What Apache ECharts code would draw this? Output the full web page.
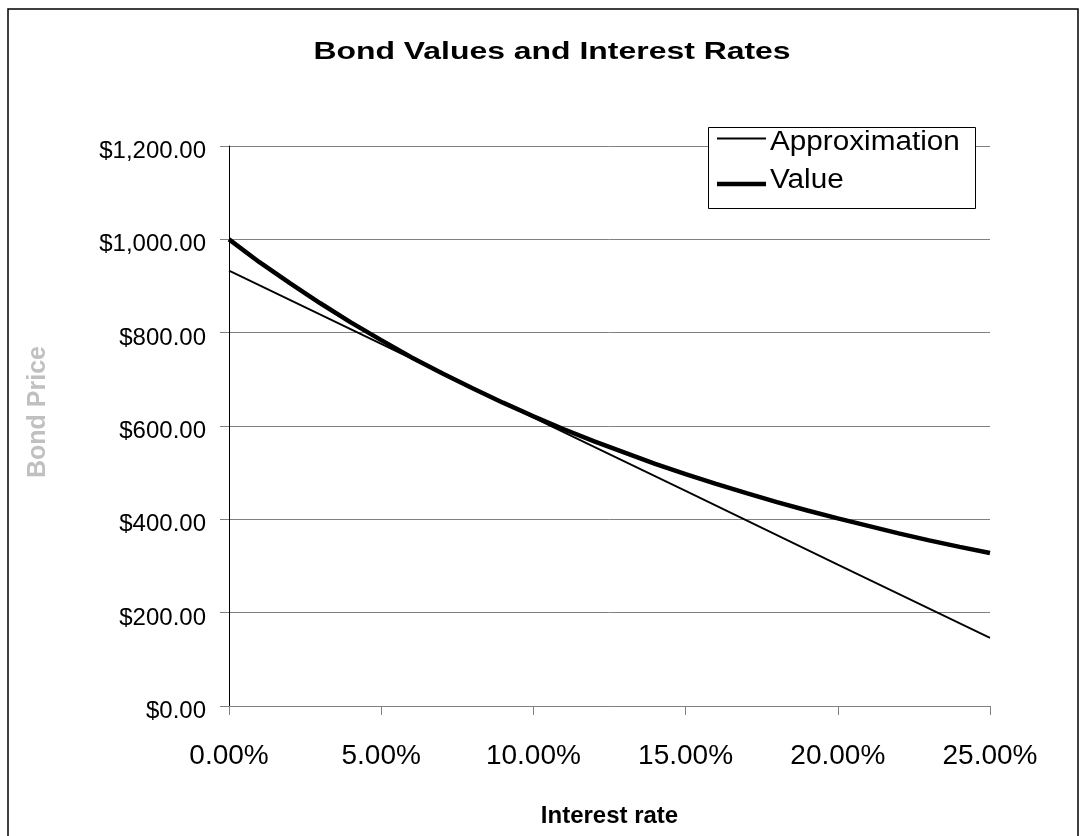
<!DOCTYPE html>
<html>
<head>
<meta charset="utf-8">
<title>Bond Values and Interest Rates</title>
<script src="https://cdn.jsdelivr.net/npm/echarts@6/dist/echarts.min.js"></script>
<style>
  html, body { margin: 0; padding: 0; background: #ffffff; }
  #chart { width: 1082px; height: 836px; }
</style>
</head>
<body>
<div id="chart"></div>
<script>
// Interest rates (as fractions) at which the bond is priced
const rates = [0.00, 0.01, 0.02, 0.03, 0.04, 0.05, 0.06, 0.07, 0.08, 0.09, 0.10, 0.11, 0.12,
               0.13, 0.14, 0.15, 0.16, 0.17, 0.18, 0.19, 0.20, 0.21, 0.22, 0.23, 0.24, 0.25];

// Bond price at each rate
const bondValue = [1000, 951, 906, 863, 822, 784, 747, 713, 681, 650, 621, 593, 567,
                   543, 519, 497, 476, 456, 437, 419, 402, 386, 370, 355, 341, 328];

// Linear (duration) approximation of the price
const approxRates = [0.00, 0.05, 0.10, 0.15, 0.20, 0.25];
const approxValue = [933, 776, 618, 461, 303, 146];

// Axis ticks
const yTicks = [0, 200, 400, 600, 800, 1000, 1200];
const xTicks = [0.00, 0.05, 0.10, 0.15, 0.20, 0.25];

const seriesNames = ['Approximation', 'Value'];
const lineWidths = [1.8, 4.5];

const FONT = "'Liberation Sans', Arial, Helvetica, sans-serif";

const chart = echarts.init(document.getElementById('chart'), null, { renderer: 'canvas' });

const money = v => '$' + Number(v).toLocaleString('en-US', { minimumFractionDigits: 2, maximumFractionDigits: 2 });
const pct = v => (v * 100).toFixed(2) + '%';

// Boxed legend: a short line sample followed by the series name
const legendBox = { x: 708, y: 127, w: 267, h: 81 };
const legendRows = [138.5, 184];
const legendGraphics = [
  {
    type: 'rect',
    shape: { x: legendBox.x + 0.5, y: legendBox.y + 0.5, width: legendBox.w, height: legendBox.h },
    style: { fill: '#ffffff', stroke: '#000000', lineWidth: 1 },
    silent: true, z: 10
  }
];
seriesNames.forEach((name, i) => {
  legendGraphics.push({
    type: 'line',
    shape: { x1: 717, y1: legendRows[i], x2: 766, y2: legendRows[i] },
    style: { stroke: '#000000', lineWidth: lineWidths[i] },
    silent: true, z: 11
  });
  legendGraphics.push({
    type: 'text',
    x: 770, y: legendRows[i] + (i === 0 ? 4 : -3),
    scaleX: 1.1,
    style: {
      text: name,
      fill: '#000000',
      font: '27px ' + FONT,
      textAlign: 'left',
      textVerticalAlign: 'middle'
    },
    silent: true, z: 11
  });
});

chart.setOption({
  backgroundColor: '#ffffff',
  animation: false,
  textStyle: { fontFamily: FONT },
  grid: { left: 229, right: 92, top: 146, bottom: 130, containLabel: false },
  graphic: [
    {
      type: 'rect',
      shape: { x: 8, y: 9, width: 1070, height: 900 },
      style: { fill: 'none', stroke: '#000000', lineWidth: 1.5 },
      silent: true, z: 0
    },
    {
      type: 'text',
      x: 552, y: 40,
      scaleX: 1.33,
      originX: 0, originY: 0,
      style: {
        text: 'Bond Values and Interest Rates',
        fill: '#000000',
        font: 'bold 24px ' + FONT,
        textAlign: 'center',
        textVerticalAlign: 'top'
      },
      silent: true
    }
  ].concat(legendGraphics),
  xAxis: {
    type: 'value',
    min: xTicks[0],
    max: xTicks[xTicks.length - 1],
    interval: xTicks[1] - xTicks[0],
    name: 'Interest rate',
    nameLocation: 'middle',
    nameGap: 98,
    nameTextStyle: { fontSize: 24, fontWeight: 'bold', color: '#000000', fontFamily: FONT },
    axisLine: { show: true, lineStyle: { color: '#808080', width: 1 } },
    axisTick: { show: true, inside: false, length: 9, lineStyle: { color: '#808080' } },
    axisLabel: { formatter: pct, fontSize: 28, color: '#000000', margin: 36, fontFamily: FONT },
    splitLine: { show: false }
  },
  yAxis: {
    type: 'value',
    min: yTicks[0],
    max: yTicks[yTicks.length - 1],
    interval: yTicks[1] - yTicks[0],
    name: 'Bond Price',
    nameLocation: 'middle',
    nameGap: 178,
    nameRotate: 90,
    nameTextStyle: { fontSize: 25, fontWeight: 'bold', color: '#c0c0c0', fontFamily: FONT, padding: [0, 0, 0, 28] },
    axisLine: { show: true, lineStyle: { color: '#000000', width: 1 } },
    axisTick: { show: true, inside: false, length: 9, lineStyle: { color: '#808080' } },
    axisLabel: {
      formatter: money, fontSize: 24, color: '#000000', margin: 23, fontFamily: FONT,
      verticalAlign: 'top', lineHeight: 11
    },
    splitLine: { show: true, lineStyle: { color: '#808080', width: 1 } }
  },
  series: [
    {
      name: seriesNames[0],
      type: 'line',
      data: approxRates.map((r, i) => [r, approxValue[i]]),
      symbol: 'none',
      lineStyle: { color: '#000000', width: lineWidths[0] },
      itemStyle: { color: '#000000' },
      z: 3
    },
    {
      name: seriesNames[1],
      type: 'line',
      data: rates.map((r, i) => [r, bondValue[i]]),
      symbol: 'none',
      lineStyle: { color: '#000000', width: lineWidths[1] },
      itemStyle: { color: '#000000' },
      z: 4
    }
  ]
});
</script>
</body>
</html>
